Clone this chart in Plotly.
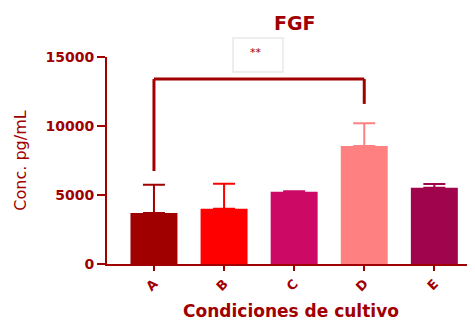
import plotly.graph_objects as go

categories = ["A", "B", "C", "D", "E"]
means = [3700, 4000, 5230, 8550, 5520]
upper = [5750, 5820, 5270, 10200, 5800]
colors = ["#A00000", "#FF0000", "#CC0A66", "#FF8080", "#A0044C"]
yticks = [0, 5000, 10000, 15000]
yticklabels = ["0", "5000", "10000", "15000"]

DARK = "#A00000"
# significance bracket (A vs D)
bracket_x = [0, 3]
bracket_top = 13400
bracket_left_end = 6740
bracket_right_end = 11600

fig = go.Figure()
# error bars first (invisible bars), so that the bars cover the lower caps
for c, m, u, col in zip(categories, means, upper, colors):
    fig.add_trace(go.Bar(
        x=[c], y=[m], marker=dict(color="rgba(0,0,0,0)", line=dict(width=0)), width=0.67,
        error_y=dict(type="data", symmetric=False, array=[u - m], arrayminus=[0],
                     color=col, thickness=2, width=11),
        showlegend=False, hoverinfo="skip"))
for c, m, col in zip(categories, means, colors):
    fig.add_trace(go.Bar(
        x=[c], y=[m], marker=dict(color=col, line=dict(width=0)), width=0.67,
        showlegend=False))

# page body has an 8px margin, so the figure is 8px smaller and offset
fig.update_layout(
    width=467, height=316, barmode="overlay",
    margin=dict(l=99, r=0, t=49, b=60, autoexpand=False),
    plot_bgcolor="white", paper_bgcolor="white",
    font=dict(family="DejaVu Sans", color=DARK),
    xaxis=dict(range=[-0.67, 4.58], showline=True, linecolor=DARK, linewidth=2,
               ticks="outside", ticklen=5, tickwidth=2, tickcolor=DARK, automargin=False,
               tickangle=-45, tickfont=dict(size=13, family="DejaVu Sans", weight="bold"),
               showgrid=False, zeroline=False,
               title=dict(text="<b>Condiciones de cultivo</b>", font=dict(size=17), standoff=12)),
    yaxis=dict(range=[0, 15000], tickvals=yticks, ticktext=yticklabels, showline=True,
               linecolor=DARK, linewidth=2, automargin=False,
               ticks="outside", ticklen=8, tickwidth=2, tickcolor=DARK,
               tickfont=dict(size=14, weight="bold"), showgrid=False, zeroline=False,
               title=dict(text="Conc. pg/mL", font=dict(size=16), standoff=15)),
)

fig.add_annotation(text="<b>FGF</b>", xref="paper", yref="paper", x=(295 - 107) / 368,
                   y=(324 - 60 - 23) / 207, showarrow=False, font=dict(size=19, color=DARK),
                   yanchor="middle", xanchor="center")

# bracket
line = dict(color=DARK, width=3)
fig.add_shape(type="line", x0=bracket_x[0], x1=bracket_x[1], y0=bracket_top, y1=bracket_top, line=line)
fig.add_shape(type="line", x0=bracket_x[0], x1=bracket_x[0], y0=bracket_top, y1=bracket_left_end, line=line)
fig.add_shape(type="line", x0=bracket_x[1], x1=bracket_x[1], y0=bracket_top, y1=bracket_right_end, line=line)

# ** box
fig.add_shape(type="rect", xref="paper", yref="paper",
              x0=(233 - 107) / 368, x1=(283 - 107) / 368,
              y0=(264 - 72) / 207, y1=(264 - 38) / 207,
              line=dict(color="#EEEEEE", width=2), fillcolor="white")
fig.add_annotation(text="**", xref="paper", yref="paper", x=(256 - 107) / 368,
                   y=(264 - 53) / 207, showarrow=False, font=dict(size=11, color=DARK),
                   xanchor="center", yanchor="middle")

fig.write_html("out.html")
